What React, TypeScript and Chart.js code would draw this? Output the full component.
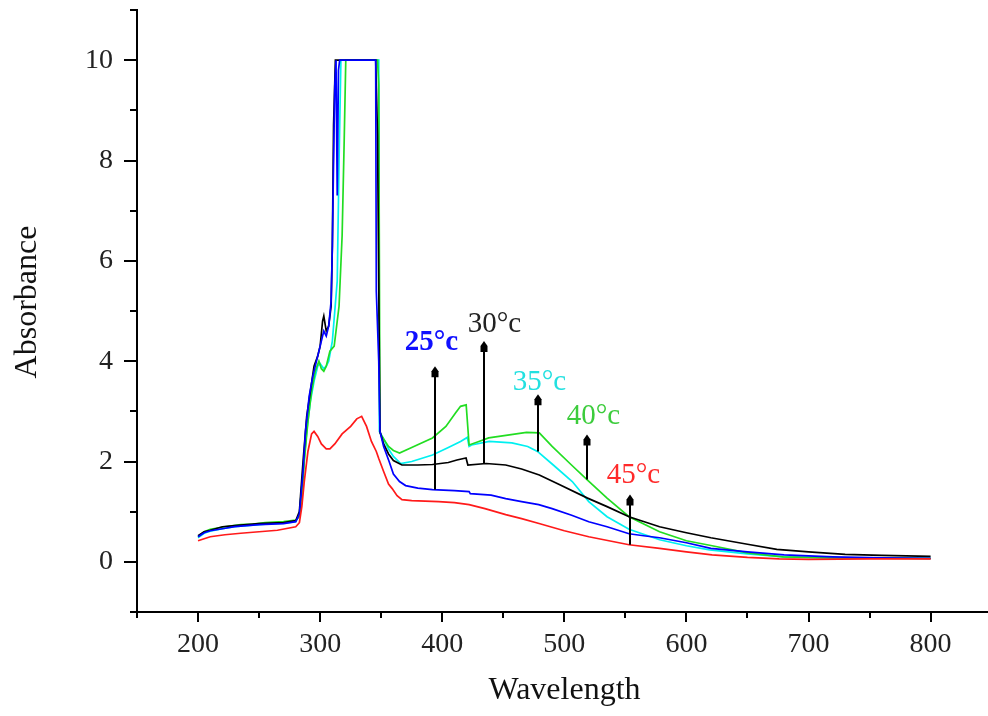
import React, { useEffect, useRef } from 'react';
import { Chart, registerables } from 'chart.js';

Chart.register(...registerables);

// ---------- data (wavelength nm, absorbance) ----------
const wl25 = [200, 205, 210, 220, 230, 240, 250, 260, 270, 280, 283, 286, 288, 291, 294, 297, 300, 303, 305, 307, 309, 310, 311, 312, 313, 314, 315, 316, 345.5, 346, 348, 349, 352, 356.5, 360, 365, 370, 380, 392, 410, 422, 423, 440, 452, 465, 479, 490, 506, 520, 535, 553, 565, 578, 600, 620, 650, 680, 720, 760, 800];
const abs25 = [0.50, 0.58, 0.62, 0.66, 0.70, 0.72, 0.74, 0.75, 0.76, 0.80, 0.95, 1.8, 2.6, 3.3, 3.7, 4.0, 4.3, 4.6, 4.5, 4.7, 5.2, 6.3, 8.0, 9.5, 10, 7.3, 9.8, 10, 10, 5.4, 4.0, 2.6, 2.3, 2.0, 1.75, 1.6, 1.52, 1.47, 1.44, 1.42, 1.40, 1.36, 1.33, 1.26, 1.2, 1.14, 1.06, 0.93, 0.8, 0.7, 0.56, 0.52, 0.48, 0.38, 0.27, 0.2, 0.14, 0.1, 0.08, 0.07];

const wl30 = [200, 205, 210, 220, 230, 240, 250, 260, 270, 280, 283, 286, 289, 292, 295, 298, 300, 302, 303, 305, 307, 309, 310, 311, 312.5, 345.5, 346, 347, 349, 352, 356, 360, 367, 380, 392, 405, 412, 419.5, 421, 436, 452, 465, 479.5, 495, 519, 535, 553, 578, 600, 620, 650, 674, 700, 730, 760, 800];
const abs30 = [0.52, 0.6, 0.63, 0.7, 0.72, 0.74, 0.76, 0.77, 0.78, 0.82, 1.0, 2.0, 2.9, 3.4, 3.9, 4.1, 4.3, 4.8, 4.9, 4.6, 4.7, 5.1, 6.3, 8.7, 10, 10, 9.5, 8.5, 2.6, 2.35, 2.15, 2.02, 1.93, 1.93, 1.94, 1.98, 2.03, 2.07, 1.93, 1.96, 1.93, 1.85, 1.73, 1.55, 1.27, 1.1, 0.9, 0.7, 0.58, 0.48, 0.35, 0.25, 0.2, 0.15, 0.13, 0.11];

const wl35 = [200, 205, 210, 220, 230, 240, 250, 260, 270, 280, 283, 286, 289, 292, 295, 298, 300, 303, 305, 307, 310, 312, 314, 315.5, 317, 348, 348.5, 352, 356, 360, 366, 375, 392, 405, 415, 420.5, 422, 424, 438.5, 457, 470, 478, 490, 506.5, 520, 535, 553, 578, 600, 619, 650, 680, 720, 800];
const abs35 = [0.48, 0.57, 0.61, 0.66, 0.7, 0.72, 0.74, 0.76, 0.77, 0.8, 0.95, 1.8, 2.6, 3.2, 3.6, 3.9, 3.95, 3.85, 3.9, 4.0, 4.4, 5.0, 5.6, 8.0, 10, 10, 2.6, 2.45, 2.25, 2.1, 1.96, 2.0, 2.13, 2.28, 2.4, 2.48, 2.3, 2.33, 2.4, 2.37, 2.3, 2.2, 1.95, 1.6, 1.2, 0.9, 0.65, 0.44, 0.32, 0.24, 0.16, 0.1, 0.08, 0.07];

const wl40 = [200, 205, 210, 222, 235, 245, 255, 270, 280, 283, 285, 287, 290, 293, 296, 299, 301, 303, 305, 308, 311.5, 313, 315.5, 318, 319.7, 321, 347, 348, 349, 352, 356, 360, 365, 375, 392, 403, 411, 415, 419.6, 422, 430, 438, 455, 469, 479.5, 490, 505, 519, 535, 553, 578, 600, 619, 650, 679, 720, 800];
const abs40 = [0.5, 0.6, 0.65, 0.7, 0.74, 0.75, 0.78, 0.8, 0.83, 0.9, 1.2, 2.0, 2.8, 3.4, 3.8, 4.0, 3.85, 3.8, 3.9, 4.2, 4.3, 4.6, 5.1, 6.5, 8.4, 10, 10, 9.5, 2.57, 2.45, 2.3, 2.22, 2.17, 2.28, 2.47, 2.7, 2.97, 3.1, 3.13, 2.33, 2.4, 2.47, 2.53, 2.58, 2.57, 2.3, 1.95, 1.63, 1.27, 0.9, 0.6, 0.42, 0.33, 0.18, 0.1, 0.08, 0.07];

const wl45 = [200, 205, 210, 222, 235, 250, 265, 280, 283, 285, 287, 290, 293, 295, 298, 301, 305, 308, 312, 318, 325, 330, 334, 338, 342, 346, 348, 352, 356, 359, 363, 367, 375, 397, 410, 422, 435, 452, 465, 480, 500, 520, 553, 578, 600, 621, 650, 676, 700, 750, 800];
const abs45 = [0.42, 0.46, 0.5, 0.54, 0.57, 0.6, 0.63, 0.7, 0.78, 1.1, 1.6, 2.2, 2.55, 2.6, 2.5, 2.35, 2.25, 2.25, 2.35, 2.55, 2.7, 2.85, 2.9, 2.7, 2.4, 2.2, 2.06, 1.8, 1.55, 1.46, 1.32, 1.24, 1.22, 1.2, 1.18, 1.14, 1.06, 0.94, 0.86, 0.76, 0.62, 0.5, 0.34, 0.27, 0.2, 0.14, 0.09, 0.06, 0.05, 0.06, 0.06];

// ---------- axes ----------
const xMajorTicks = [200, 300, 400, 500, 600, 700, 800];
const xMinorTicks = [150, 250, 350, 450, 550, 650, 750, 850];
const yMajorTicks = [0, 2, 4, 6, 8, 10];
const yMinorTicks = [-1, 1, 3, 5, 7, 9, 11];

// ---------- annotations ----------
const seriesLabels = ['25°c', '30°c', '35°c', '40°c', '45°c'];
const labelColors = ['#1010ff', '#222222', '#22e0e0', '#3ccc3c', '#ff2a2a'];
const labelLeftX = [369.2, 420.8, 457.7, 502, 534.7];
const labelBaseY = [4.22, 4.58, 3.43, 2.75, 1.57];
const arrowX = [394.3, 434.4, 478.7, 518.9, 554];
const arrowFrom = [1.44, 1.96, 2.2, 1.64, 0.34];
const arrowTo = [3.9, 4.4, 3.34, 2.54, 1.34];

const SERIF = '"Liberation Serif", "Times New Roman", serif';

const toXY = (xs: number[], ys: number[]) => xs.map((v, i) => ({ x: v, y: ys[i] }));

const decorPlugin = {
  id: 'decor',
  afterDraw(chart: any) {
    const { ctx, chartArea } = chart;
    const xs = chart.scales.x;
    const ys = chart.scales.y;
    ctx.save();
    ctx.strokeStyle = '#000';
    ctx.lineWidth = 2;
    ctx.beginPath();
    for (const v of yMajorTicks) {
      const py = Math.round(ys.getPixelForValue(v));
      ctx.moveTo(chartArea.left - 13, py);
      ctx.lineTo(chartArea.left, py);
    }
    for (const v of yMinorTicks) {
      const py = Math.round(ys.getPixelForValue(v));
      ctx.moveTo(chartArea.left - 7, py);
      ctx.lineTo(chartArea.left, py);
    }
    for (const v of xMajorTicks) {
      const px = Math.round(xs.getPixelForValue(v));
      ctx.moveTo(px, chartArea.bottom);
      ctx.lineTo(px, chartArea.bottom + 10);
    }
    for (const v of xMinorTicks) {
      const px = Math.round(xs.getPixelForValue(v));
      ctx.moveTo(px, chartArea.bottom);
      ctx.lineTo(px, chartArea.bottom + 6);
    }
    ctx.stroke();

    // arrows
    for (let i = 0; i < arrowX.length; i++) {
      const px = Math.round(xs.getPixelForValue(arrowX[i]));
      const y0 = ys.getPixelForValue(arrowFrom[i]);
      const y1 = ys.getPixelForValue(arrowTo[i]);
      ctx.strokeStyle = '#000';
      ctx.lineWidth = 2;
      ctx.beginPath();
      ctx.moveTo(px, y0);
      ctx.lineTo(px, y1 + 4);
      ctx.stroke();
      ctx.fillStyle = '#000';
      ctx.beginPath();
      ctx.moveTo(px, y1);
      ctx.lineTo(px + 3.5, y1 + 5);
      ctx.lineTo(px + 3.5, y1 + 11);
      ctx.lineTo(px - 3.5, y1 + 11);
      ctx.lineTo(px - 3.5, y1 + 5);
      ctx.closePath();
      ctx.fill();
    }

    // labels
    ctx.textBaseline = 'alphabetic';
    ctx.textAlign = 'left';
    for (let i = 0; i < seriesLabels.length; i++) {
      ctx.fillStyle = labelColors[i];
      ctx.font = (i === 0 ? 'bold ' : '') + '29px ' + SERIF;
      ctx.fillText(seriesLabels[i], xs.getPixelForValue(labelLeftX[i]), ys.getPixelForValue(labelBaseY[i]));
    }

    // axis titles
    ctx.fillStyle = '#111';
    ctx.font = '32px ' + SERIF;
    ctx.textAlign = 'center';
    ctx.textBaseline = 'alphabetic';
    ctx.fillText('Wavelength', (chartArea.left + 988) / 2 + 2, 699);
    ctx.save();
    ctx.translate(36, 302);
    ctx.rotate(-Math.PI / 2);
    ctx.fillText('Absorbance', 0, 0);
    ctx.restore();
    ctx.restore();
  },
};

export default function App() {
  const ref = useRef<HTMLCanvasElement | null>(null);
  useEffect(() => {
    document.body.style.margin = '0';
    const canvas = ref.current;
    if (!canvas) return;
    const mk = (label: string, xs: number[], ys: number[], color: string) => ({
      label,
      data: toXY(xs, ys),
      borderColor: color,
      backgroundColor: color,
      borderWidth: 1.7,
      pointRadius: 0,
      tension: 0,
      fill: false,
    });
    const chart = new Chart(canvas, {
      type: 'line',
      data: {
        datasets: [
          mk('45°C', wl45, abs45, '#ff1a1a'),
          mk('25°C', wl25, abs25, '#0000ff'),
          mk('30°C', wl30, abs30, '#000000'),
          mk('40°C', wl40, abs40, '#22dd22'),
          mk('35°C', wl35, abs35, '#00f0f0'),
        ],
      },
      options: {
        animation: false,
        responsive: false,
        parsing: true,
        layout: { padding: { top: 10, right: 0, left: 0, bottom: 0 } },
        plugins: { legend: { display: false }, tooltip: { enabled: false }, title: { display: false } },
        scales: {
          x: {
            type: 'linear',
            min: 150,
            max: 847,
            grid: { display: false, drawTicks: false },
            border: { display: true, color: '#000', width: 2 },
            afterBuildTicks: (s: any) => { s.ticks = xMajorTicks.map((v) => ({ value: v })); },
            afterFit: (s: any) => { s.height = 104; s.paddingLeft = 0; s.paddingRight = 0; },
            ticks: { color: '#222', font: { family: SERIF, size: 28 }, padding: 16, maxRotation: 0, autoSkip: false },
          },
          y: {
            type: 'linear',
            min: -1,
            max: 11,
            grid: { display: false, drawTicks: false },
            border: { display: true, color: '#000', width: 2 },
            afterBuildTicks: (s: any) => { s.ticks = yMajorTicks.map((v) => ({ value: v })); },
            afterFit: (s: any) => { s.width = 137; s.paddingTop = 0; s.paddingBottom = 0; },
            ticks: { color: '#222', font: { family: SERIF, size: 28 }, padding: 24 },
          },
        },
      },
      plugins: [decorPlugin],
    });
    return () => chart.destroy();
  }, []);
  return (
    <div style={{ position: 'absolute', left: 0, top: 0, width: 988, height: 716 }}>
      <canvas ref={ref} width={988} height={716} style={{ display: 'block' }} />
    </div>
  );
}
